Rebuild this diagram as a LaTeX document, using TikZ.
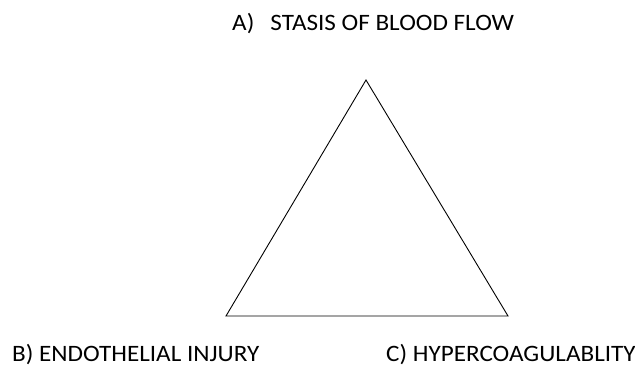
\documentclass[tikz,border=0pt]{standalone}
\usepackage{fontspec}
\setmainfont{Carlito}
\newfontfamily\labfont[FakeStretch=1.07]{Carlito}
\begin{document}
\begin{tikzpicture}[x=1pt,y=-1pt,
  lbl/.style={anchor=base west,inner sep=0pt,font=\labfont\fontsize{23.5}{27}\selectfont},
  tri/.style={draw=black,line width=0.9pt,line join=miter}]
\useasboundingbox (0,0) rectangle (635,367);
\coordinate (top) at (366,80);
\coordinate (bl) at (226,316);
\coordinate (br) at (508,316);
\draw[tri] (top) -- (bl) -- (br) -- cycle;
\node[lbl] (a) at (232,30) {A)\hspace{16pt}STASIS OF BLOOD FLOW};
\node[lbl] (b) at (12,361.5) {B) ENDOTHELIAL INJURY};
\node[lbl] (c) at (386,361.5) {C) HYPERCOAGULABLITY};
\end{tikzpicture}
\end{document}
